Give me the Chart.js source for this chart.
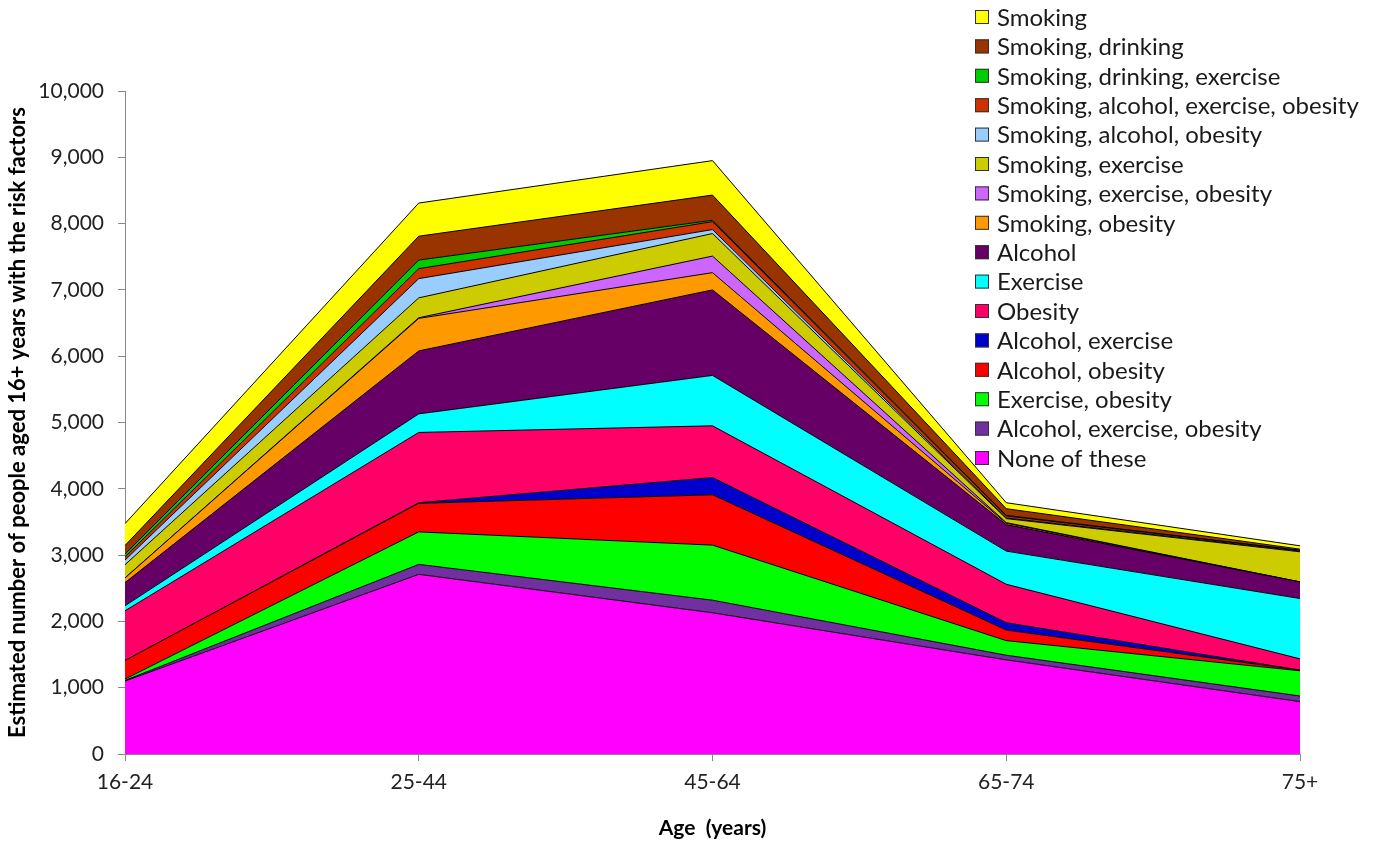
<!DOCTYPE html>
<html>
<head>
<meta charset="utf-8">
<script src="https://cdn.jsdelivr.net/npm/chart.js@4.4.0/dist/chart.umd.min.js"></script>
<style>
  html, body { margin: 0; padding: 0; background: #fff; }
</style>
</head>
<body>
<canvas id="myChart" width="1390" height="843"></canvas>
<script>
var ages = ["16-24", "25-44", "45-64", "65-74", "75+"];

// stacked bottom -> top
var noneOfThese = [1100, 2710, 2130, 1420, 790];
var alcExeObe = [10, 150, 190, 70, 85];
var exeObe = [20, 490, 830, 220, 380];
var alcObe = [280, 430, 760, 160, 10];
var alcExe = [0, 10, 260, 110, 0];
var obesity = [750, 1060, 780, 580, 170];
var exercise = [75, 280, 760, 500, 910];
var alcohol = [350, 950, 1290, 400, 250];
var smkObe = [70, 490, 260, 20, 0];
var smkExeObe = [0, 10, 250, 10, 0];
var smkExe = [200, 300, 340, 60, 455];
var smkAlcObe = [70, 290, 60, 10, 10];
var smkAlcExeObe = [50, 150, 120, 30, 10];
var smkDrkExe = [40, 130, 20, 10, 0];
var smkDrk = [130, 360, 380, 100, 20];
var smoking = [330, 500, 520, 90, 50];

var FONT = "Lato, 'Open Sans', sans-serif";

function area(label, data, color, first) {
  return {
    label: label,
    data: data,
    backgroundColor: color,
    borderColor: "#000",
    borderWidth: 1,
    pointRadius: 0,
    tension: 0,
    fill: first ? "origin" : "-1",
  };
}

// legend drawn over the top right of the plot, top layer first
var legendBox = {
  id: "legendBox",
  afterDraw: function (chart) {
    var ctx = chart.ctx;
    var sets = chart.data.datasets.slice().reverse();
    ctx.save();
    ctx.font = "24px " + FONT;
    ctx.textBaseline = "middle";
    sets.forEach(function (ds, i) {
      var y = 17 + i * 29.4;
      ctx.fillStyle = ds.backgroundColor;
      ctx.fillRect(975, y - 7, 14, 14);
      ctx.strokeStyle = "#333";
      ctx.lineWidth = 1;
      ctx.strokeRect(975.5, y - 6.5, 13, 13);
      ctx.fillStyle = "#1a1a1a";
      ctx.fillText(ds.label, 997, y + 1);
    });
    ctx.restore();
  },
};

new Chart(document.getElementById("myChart"), {
  type: "line",
  data: {
    labels: ages,
    datasets: [
      area("None of these", noneOfThese, "#FF00FF", true),
      area("Alcohol, exercise, obesity", alcExeObe, "#7030A0"),
      area("Exercise, obesity", exeObe, "#00FF00"),
      area("Alcohol, obesity", alcObe, "#FF0000"),
      area("Alcohol, exercise", alcExe, "#0000CC"),
      area("Obesity", obesity, "#FF0066"),
      area("Exercise", exercise, "#00FFFF"),
      area("Alcohol", alcohol, "#660066"),
      area("Smoking, obesity", smkObe, "#FF9900"),
      area("Smoking, exercise, obesity", smkExeObe, "#CC66FF"),
      area("Smoking, exercise", smkExe, "#CCCC00"),
      area("Smoking, alcohol, obesity", smkAlcObe, "#99CCFF"),
      area("Smoking, alcohol, exercise, obesity", smkAlcExeObe, "#CC3300"),
      area("Smoking, drinking, exercise", smkDrkExe, "#00CC00"),
      area("Smoking, drinking", smkDrk, "#993300"),
      area("Smoking", smoking, "#FFFF00"),
    ],
  },
  plugins: [legendBox],
  options: {
    responsive: false,
    animation: false,
    layout: { padding: { top: 91, right: 90, left: 0, bottom: 0 } },
    plugins: {
      legend: { display: false },
      tooltip: { enabled: false },
    },
    scales: {
      x: {
        offset: false,
        afterFit: function (s) { s.height = 89; },
        grid: { drawOnChartArea: false, drawTicks: true, tickLength: 7, color: "#888" },
        border: { color: "#888" },
        ticks: { color: "#222", padding: 9, font: { family: FONT, size: 21 }, maxRotation: 0 },
        title: {
          display: true,
          text: "Age  (years)",
          color: "#000",
          font: { family: FONT, size: 21, weight: "bold" },
          padding: { top: 2, bottom: 2 },
        },
      },
      y: {
        stacked: true,
        min: 0,
        max: 10000,
        afterFit: function (s) { s.width = 125; },
        grid: { drawOnChartArea: false, drawTicks: true, tickLength: 7, color: "#888" },
        border: { color: "#888" },
        ticks: {
          stepSize: 1000,
          color: "#222",
          padding: 14,
          font: { family: FONT, size: 21 },
          callback: function (v) { return v.toLocaleString("en-US"); },
        },
        title: {
          display: true,
          text: "Estimated number of people aged 16+ years with the risk factors",
          color: "#000",
          font: { family: FONT, size: 22, weight: "bold" },
          padding: { top: 5, bottom: 0 },
        },
      },
    },
  },
});
</script>
</body>
</html>
